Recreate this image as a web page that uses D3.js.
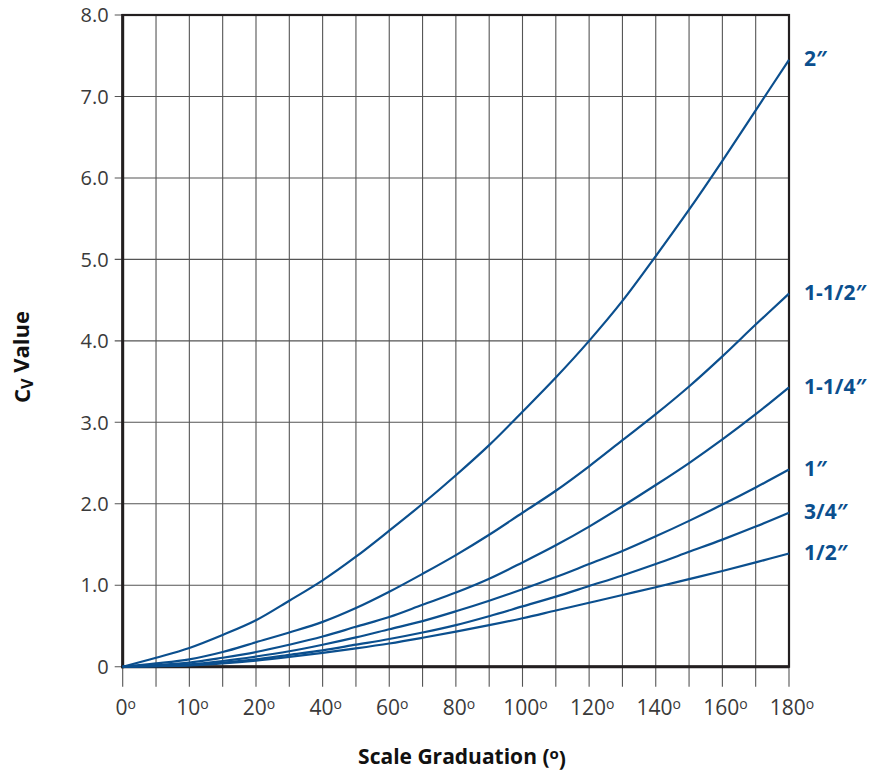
<!DOCTYPE html>
<html>
<head>
<meta charset="utf-8">
<script src="https://cdn.jsdelivr.net/npm/d3@7/dist/d3.min.js"></script>
<style>
  body { margin: 0; background: #fff; }
</style>
</head>
<body>
<div id="chart"></div>
<script>
// scale graduation (degrees) where readings were taken
var grads = [0, 5, 10, 15, 20, 30, 40, 50, 60, 70, 80, 90, 100, 110, 120, 130, 140, 150, 160, 170, 180];
var gradLabels = [0, 10, 20, 40, 60, 80, 100, 120, 140, 160, 180];
var cvTicks = [0, 1, 2, 3, 4, 5, 6, 7, 8];

var sizes = ['2\u2033', '1-1/2\u2033', '1-1/4\u2033', '1\u2033', '3/4\u2033', '1/2\u2033'];

// Cv value per size, one value per graduation
var cv2in   = [0, 0.11, 0.23, 0.39, 0.57, 0.81, 1.06, 1.35, 1.67, 2.0, 2.35, 2.72, 3.13, 3.55, 4.0, 4.49, 5.04, 5.61, 6.21, 6.83, 7.45];
var cv112in = [0, 0.04, 0.09, 0.18, 0.3, 0.42, 0.55, 0.72, 0.92, 1.14, 1.37, 1.62, 1.89, 2.16, 2.46, 2.78, 3.1, 3.44, 3.81, 4.2, 4.58];
var cv114in = [0, 0.02, 0.05, 0.11, 0.18, 0.27, 0.37, 0.49, 0.61, 0.76, 0.91, 1.08, 1.28, 1.49, 1.72, 1.97, 2.23, 2.5, 2.79, 3.1, 3.43];
var cv1in   = [0, 0.01, 0.03, 0.07, 0.125, 0.19, 0.27, 0.36, 0.46, 0.56, 0.68, 0.81, 0.95, 1.1, 1.26, 1.42, 1.6, 1.79, 1.99, 2.2, 2.42];
var cv34in  = [0, 0.01, 0.02, 0.05, 0.09, 0.145, 0.2, 0.27, 0.34, 0.42, 0.51, 0.62, 0.74, 0.86, 0.99, 1.12, 1.26, 1.41, 1.56, 1.72, 1.89];
var cv12in  = [0, 0.005, 0.015, 0.04, 0.075, 0.12, 0.17, 0.225, 0.285, 0.355, 0.43, 0.51, 0.595, 0.69, 0.785, 0.88, 0.975, 1.075, 1.175, 1.28, 1.39];

var series = [cv2in, cv112in, cv114in, cv1in, cv34in, cv12in];

var w = 871,
    h = 771;
var blue = '#0b4f8e',
    ink = '#231f20';

var svg = d3.select('#chart').append('svg')
    .attr('width', w)
    .attr('height', h);

// the graduation axis is stretched below 20 degrees
var x = d3.scaleLinear().domain([0, 20, 180]).range([122.7, 256, 789]);
var y = d3.scaleLinear().domain([0, 8]).range([666.7, 15]);

// grid
svg.selectAll('.vgrid')
    .data(grads)
    .enter()
    .append('line')
    .attr('x1', function(d) { return x(d); })
    .attr('x2', function(d) { return x(d); })
    .attr('y1', y(8))
    .attr('y2', y(0) + 20)
    .style('stroke', '#555')
    .style('stroke-width', 1.1);

svg.selectAll('.hgrid')
    .data(cvTicks)
    .enter()
    .append('line')
    .attr('x1', x(0) - 8)
    .attr('x2', x(180))
    .attr('y1', function(d) { return y(d); })
    .attr('y2', function(d) { return y(d); })
    .style('stroke', '#555')
    .style('stroke-width', 1.1);

// frame
svg.append('rect')
    .attr('x', x(0))
    .attr('y', y(8))
    .attr('width', x(180) - x(0))
    .attr('height', y(0) - y(8))
    .style('fill', 'none')
    .style('stroke', ink)
    .style('stroke-width', 2.2);
svg.append('line')
    .attr('x1', x(0)).attr('x2', x(0))
    .attr('y1', y(8) - 1).attr('y2', y(0) + 1.5)
    .style('stroke', ink).style('stroke-width', 3);
svg.append('line')
    .attr('x1', x(0) - 1.5).attr('x2', x(180))
    .attr('y1', y(0)).attr('y2', y(0))
    .style('stroke', ink).style('stroke-width', 3);

// y tick labels
svg.selectAll('.ylab')
    .data(cvTicks)
    .enter()
    .append('text')
    .attr('x', x(0) - 14)
    .attr('y', function(d) { return y(d); })
    .attr('dy', '0.36em')
    .attr('text-anchor', 'end')
    .style('font-family', '"Open Sans", sans-serif')
    .style('font-size', '20px')
    .style('fill', '#3a3a3a')
    .text(function(d) { return d === 0 ? '0' : d3.format('.1f')(d); });

// x tick labels with superscript degree "o"
var xl = svg.selectAll('.xlab')
    .data(gradLabels)
    .enter()
    .append('text')
    .attr('x', function(d) { return x(d) + 3; })
    .attr('y', y(0) + 48)
    .attr('text-anchor', 'middle')
    .style('font-family', '"Open Sans", sans-serif')
    .style('font-size', '21px')
    .style('fill', '#3a3a3a');
xl.append('tspan').text(function(d) { return d; });
xl.append('tspan')
    .attr('dy', '-0.38em')
    .style('font-size', '14px')
    .text('o');

// curves
var line = d3.line()
    .x(function(d, i) { return x(grads[i]); })
    .y(function(d) { return y(d); })
    .curve(d3.curveCatmullRom.alpha(0.5));

svg.selectAll('.curve')
    .data(series)
    .enter()
    .append('path')
    .attr('d', line)
    .style('fill', 'none')
    .style('stroke', blue)
    .style('stroke-width', 2.2);

// size labels at the curve ends
svg.selectAll('.size')
    .data(series)
    .enter()
    .append('text')
    .attr('x', x(180) + 15)
    .attr('y', function(d) { return y(d[d.length - 1]); })
    .attr('dy', '0.3em')
    .style('font-family', '"Open Sans", sans-serif')
    .style('font-weight', 'bold')
    .style('font-size', '21px')
    .style('fill', blue)
    .text(function(d, i) { return sizes[i]; });

// axis titles
var yt = svg.append('text')
    .attr('transform', 'translate(30,' + 357 + ') rotate(-90)')
    .attr('text-anchor', 'middle')
    .style('font-family', '"Open Sans", sans-serif')
    .style('font-weight', 'bold')
    .style('font-size', '22px')
    .style('fill', '#111');
yt.append('tspan').text('C');
yt.append('tspan').attr('dy', '0.2em').style('font-size', '16px').text('V');
yt.append('tspan').attr('dy', '-0.2em').text(' Value');

var xt = svg.append('text')
    .attr('x', 462)
    .attr('y', 764)
    .attr('text-anchor', 'middle')
    .style('font-family', '"Open Sans", sans-serif')
    .style('font-weight', 'bold')
    .style('font-size', '21px')
    .style('fill', '#111');
xt.append('tspan').text('Scale Graduation (');
xt.append('tspan').attr('dy', '-0.35em').style('font-size', '15px').text('o');
xt.append('tspan').attr('dy', '0.35em').text(')');
</script>
</body>
</html>
